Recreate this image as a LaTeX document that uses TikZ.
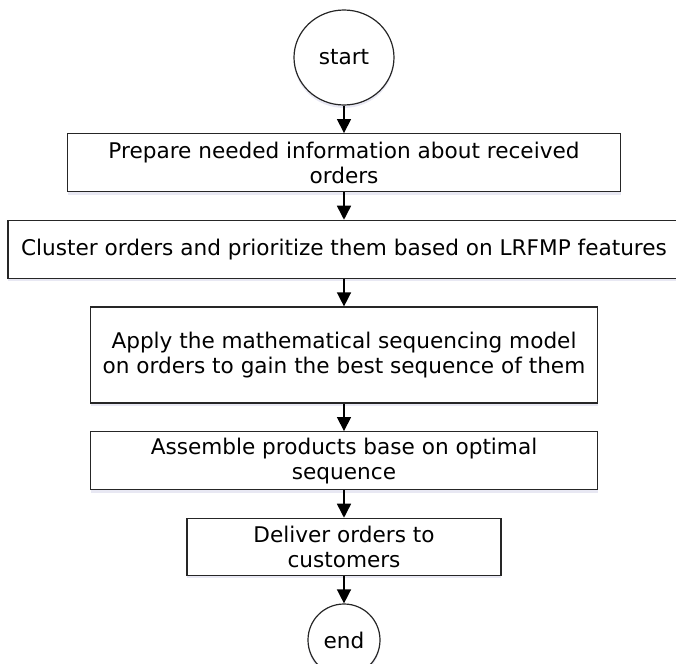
\documentclass[tikz,border=0pt]{standalone}
\usepackage{fontspec}
\setmainfont{DejaVu Sans}
\usetikzlibrary{positioning,arrows.meta,shapes.geometric,shadows}

\begin{document}
\begin{tikzpicture}[
  x=0.75pt, y=-0.75pt,
  >={Triangle[length=10.5pt,width=10.5pt]},
  node distance=20.6pt,
  every node/.style={inner sep=2pt},
  stepbox/.style={
    rectangle, draw=black!85, line width=0.9pt, fill=white,
    align=center, minimum height=43.5pt,
    font=\fontsize{16.2}{18.75}\selectfont,
    drop shadow={shadow xshift=0pt, shadow yshift=-2.2pt,
      fill=blue!30!gray!35, opacity=0.4},
  },
  termnode/.style={
    ellipse, draw=black!85, line width=0.9pt, fill=white,
    inner sep=0pt,
    font=\fontsize{16.2}{18.75}\selectfont,
    drop shadow={shadow xshift=0pt, shadow yshift=-2.2pt,
      fill=blue!30!gray!35, opacity=0.4},
  },
  arr/.style={->, draw=black, line width=1.1pt},
]

\useasboundingbox (0,0) rectangle (676,664);

%---------- start / steps / end (top-down) ----------
\node[termnode, minimum width=75pt, minimum height=71.25pt] (start) at (344,57.5) {start};
\node[stepbox, minimum width=414.75pt, below=of start] (prep)
  {Prepare needed information about received\\orders};
\node[stepbox, minimum width=504pt, below=of prep] (clust)
  {Cluster orders and prioritize them based on LRFMP features};
\node[stepbox, minimum width=380.25pt, minimum height=72pt, below=of clust] (model)
  {Apply the mathematical sequencing model\\on orders to gain the best sequence of them};
\node[stepbox, minimum width=380.25pt, below=of model] (assem)
  {Assemble products base on optimal\\sequence};
\node[stepbox, minimum width=235.5pt, minimum height=42.75pt, below=of assem] (deliv)
  {Deliver orders to\\customers};
\node[termnode, minimum width=54pt, minimum height=54pt, below=of deliv] (end) {end};

%---------- arrows ----------
\foreach \src/\dst in {start/prep,prep/clust,clust/model,model/assem,assem/deliv,deliv/end}{
  \draw[arr] (\src) -- (\dst);
}

\end{tikzpicture}
\end{document}
